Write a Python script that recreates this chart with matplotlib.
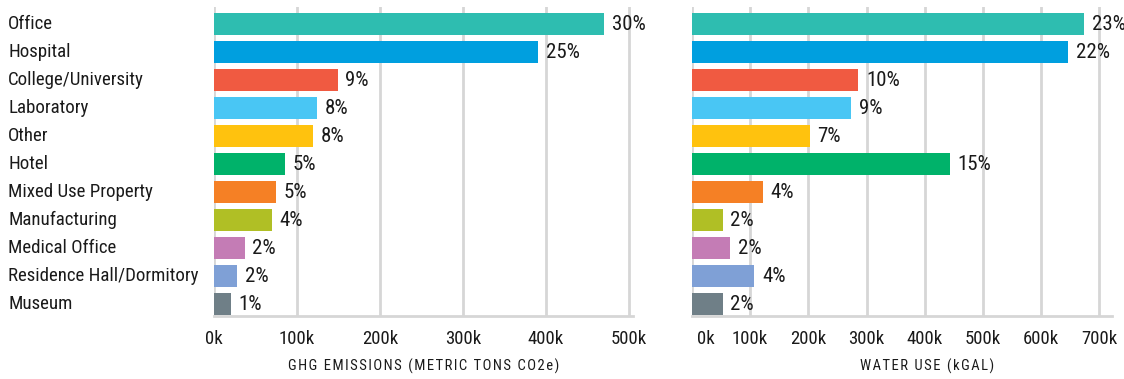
import matplotlib
matplotlib.use("Agg")
import matplotlib.pyplot as plt
import matplotlib.transforms as mtransforms
from matplotlib import font_manager

names = {f.name for f in font_manager.fontManager.ttflist}
for fam in ["Roboto Condensed", "Liberation Sans Narrow", "Roboto"]:
    if fam in names:
        FONT = fam
        break
else:
    FONT = "DejaVu Sans"
plt.rcParams["font.family"] = [FONT, "DejaVu Sans"]

categories = ["Office", "Hospital", "College/University", "Laboratory", "Other",
              "Hotel", "Mixed Use Property", "Manufacturing", "Medical Office",
              "Residence Hall/Dormitory", "Museum"]
colors = ["#2ebdb0", "#009fdf", "#f05a41", "#49c6f4", "#ffc20e", "#00b26a",
          "#f58025", "#b0bf25", "#c47cb5", "#7fa0d6", "#6f7f87"]

ghg = [470000, 391000, 149000, 124000, 119000, 86000, 75000, 70000, 37000, 28000, 20000]
ghg_pct = ["30%", "25%", "9%", "8%", "8%", "5%", "5%", "4%", "2%", "2%", "1%"]

water = [674000, 647000, 286000, 274000, 202000, 443000, 122000, 53000, 66000, 107000, 53000]
water_pct = ["23%", "22%", "10%", "9%", "7%", "15%", "4%", "2%", "2%", "4%", "2%"]

W, H = 1124, 379
fig = plt.figure(figsize=(W / 100, H / 100), dpi=100)

grid_c = "#d6d6d6"
text_c = "#1a1a1a"


def spaced(s):
    # widen the tracking of the axis titles with hair spaces
    return "\u2002".join("\u200a".join(w) for w in s.split(" "))


def panel(left, right, values, pct, xmax, ticks, xlabel, show_cats):
    ax = fig.add_axes([left / W, (H - 316) / H, (right - left) / W, 309 / H])
    y = list(range(len(values)))
    ax.barh(y, values, height=0.78, color=colors, zorder=3)
    ax.set_ylim(10.42, -0.62)
    ax.set_xlim(0, xmax)
    ax.set_xticks(ticks)
    ax.set_xticklabels([f"{t // 1000}k" for t in ticks])
    ax.grid(axis="x", color=grid_c, linewidth=2, zorder=0)
    for s in ["top", "right", "left"]:
        ax.spines[s].set_visible(False)
    ax.spines["bottom"].set_color(grid_c)
    ax.spines["bottom"].set_linewidth(2)
    ax.tick_params(axis="x", length=0, pad=10, labelsize=13.5, labelcolor=text_c)
    ax.tick_params(axis="y", length=0)
    ax.set_yticks([])
    for yi, v, p in zip(y, values, pct):
        ax.annotate(p, (v, yi), xytext=(5.5, 0), textcoords="offset points",
                    va="center", ha="left", fontsize=15, color=text_c)
    ax.set_xlabel(spaced(xlabel), fontsize=10.5, color=text_c)
    ax.xaxis.label.set_va("center")
    if show_cats:
        tr = mtransforms.blended_transform_factory(fig.transFigure, ax.transData)
        for yi, c in zip(y, categories):
            ax.text(8 / W, yi, c, transform=tr, va="center", ha="left",
                    fontsize=13.6, color=text_c)
    return ax


ax1 = panel(214, 633, ghg, ghg_pct, 505000, list(range(0, 500001, 100000)),
            "GHG EMISSIONS (METRIC TONS CO2e)", True)
ax2 = panel(692, 1112, water, water_pct, 722000, list(range(0, 700001, 100000)),
            "WATER USE (kGAL)", False)
ax1.xaxis.set_label_coords(0.5, -50 / 309)
ax2.xaxis.set_label_coords(0.56, -50 / 309)

# nudge the first right-hand tick label off the axis line
lbl = ax2.get_xticklabels()[0]
lbl.set_transform(lbl.get_transform() + mtransforms.ScaledTranslation(0.14, 0, fig.dpi_scale_trans))

fig.savefig("out.png", dpi=100, facecolor="white")
